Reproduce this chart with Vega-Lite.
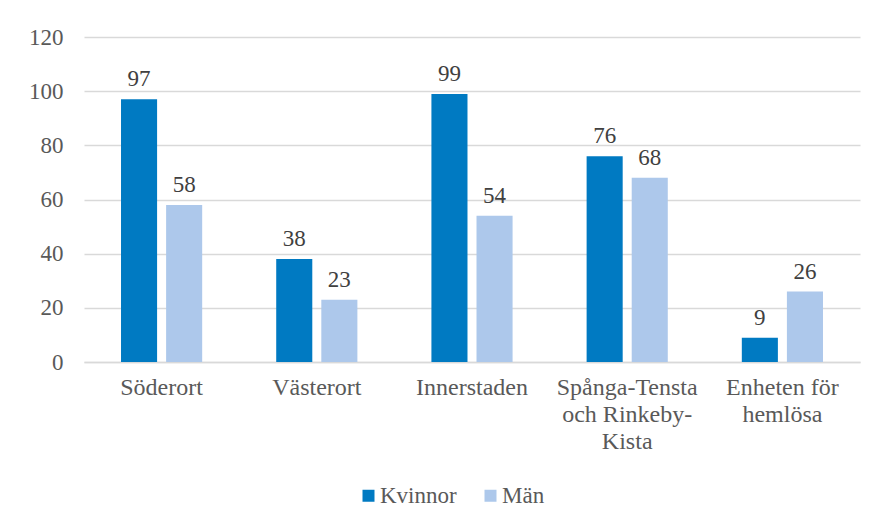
{
  "$schema": "https://vega.github.io/schema/vega-lite/v6.json",
  "width": 776,
  "height": 325,
  "autosize": {"type": "none"},
  "padding": {"left": 84, "top": 37, "right": 26, "bottom": 166},
  "background": "white",
  "config": {
    "view": {"stroke": null},
    "font": "Liberation Serif",
    "axis": {"labelFont": "Liberation Serif", "labelColor": "#595959", "labelFontSize": 23},
    "legend": {"labelFont": "Liberation Serif", "labelColor": "#595959", "labelFontSize": 23}
  },
  "data": {
    "values": [
      {"omrade": "Söderort", "kon": "Kvinnor", "antal": 97},
      {"omrade": "Söderort", "kon": "Män", "antal": 58},
      {"omrade": "Västerort", "kon": "Kvinnor", "antal": 38},
      {"omrade": "Västerort", "kon": "Män", "antal": 23},
      {"omrade": "Innerstaden", "kon": "Kvinnor", "antal": 99},
      {"omrade": "Innerstaden", "kon": "Män", "antal": 54},
      {"omrade": "Spånga-Tensta och Rinkeby-Kista", "kon": "Kvinnor", "antal": 76},
      {"omrade": "Spånga-Tensta och Rinkeby-Kista", "kon": "Män", "antal": 68},
      {"omrade": "Enheten för hemlösa", "kon": "Kvinnor", "antal": 9},
      {"omrade": "Enheten för hemlösa", "kon": "Män", "antal": 26}
    ]
  },
  "encoding": {
    "x": {
      "field": "omrade",
      "type": "nominal",
      "sort": null,
      "title": null,
      "scale": {"paddingInner": 0.477, "paddingOuter": 0.2385},
      "axis": {
        "labelAngle": 0,
        "ticks": false,
        "domainColor": "#D9D9D9",
        "domainWidth": 1.5,
        "labelFontSize": 24,
        "labelPadding": 13,
        "labelLineHeight": 27,
        "labelBaseline": "top",
        "labelExpr": "datum.value == 'Spånga-Tensta och Rinkeby-Kista' ? ['Spånga-Tensta', 'och Rinkeby-', 'Kista'] : datum.value == 'Enheten för hemlösa' ? ['Enheten för', 'hemlösa'] : datum.value"
      }
    },
    "xOffset": {
      "field": "kon",
      "type": "nominal",
      "scale": {"paddingInner": 0.2, "paddingOuter": 0}
    },
    "y": {
      "field": "antal",
      "type": "quantitative",
      "title": null,
      "scale": {"domain": [0, 120]},
      "axis": {
        "values": [0, 20, 40, 60, 80, 100, 120],
        "ticks": false,
        "domain": false,
        "gridColor": "#D9D9D9",
        "gridWidth": 1.5,
        "labelPadding": 21
      }
    }
  },
  "layer": [
    {
      "mark": {"type": "bar"},
      "encoding": {
        "color": {
          "field": "kon",
          "type": "nominal",
          "title": null,
          "scale": {"domain": ["Kvinnor", "Män"], "range": ["#007AC2", "#ADC8EB"]},
          "legend": {
            "orient": "none",
            "direction": "horizontal",
            "legendX": 273,
            "legendY": 447,
            "symbolType": "square",
            "symbolSize": 144,
            "symbolStrokeWidth": 0,
            "labelOffset": 0,
            "columnPadding": 22
          }
        }
      }
    },
    {
      "mark": {"type": "text", "baseline": "bottom", "dy": -8, "fontSize": 23, "color": "#404040", "font": "Liberation Serif"},
      "encoding": {
        "text": {"field": "antal", "type": "quantitative"}
      }
    }
  ]
}
